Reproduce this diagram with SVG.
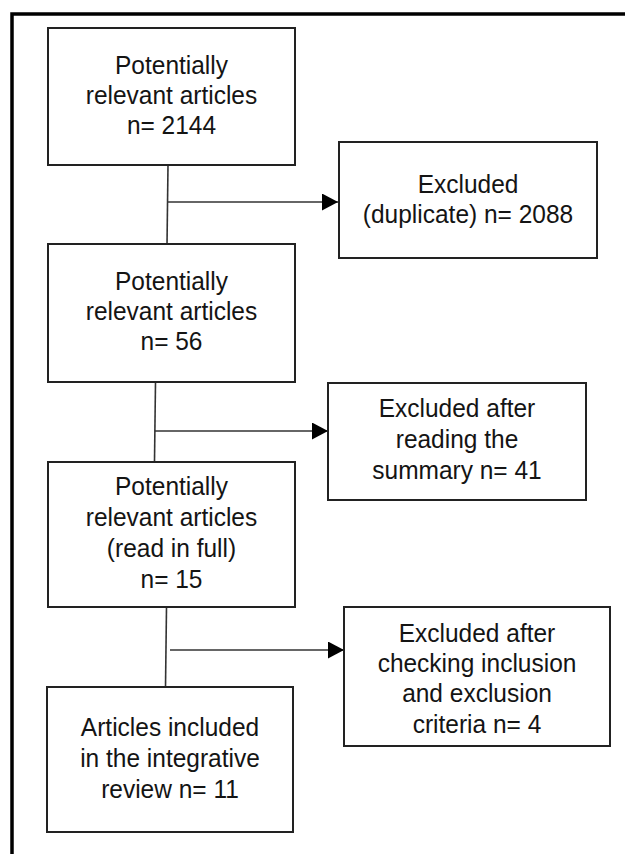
<svg xmlns="http://www.w3.org/2000/svg" width="625" height="854" viewBox="0 0 625 854">
<defs>
<style>
.box{fill:#fff;stroke:#222;stroke-width:2}
.t{font-family:"Liberation Sans",Arial,sans-serif;font-size:24.5px;fill:#141414;text-anchor:middle}
.c{stroke:#333;stroke-width:1.6;fill:none}
</style>
<marker id="arr" markerUnits="userSpaceOnUse" markerWidth="17" markerHeight="18" refX="16" refY="8.5" orient="auto">
<path d="M0,0 L16,8.5 L0,17 Z" fill="#000"/>
</marker>
</defs>
<rect width="625" height="854" fill="#fff"/>
<path d="M12,854 V14 H625" fill="none" stroke="#000" stroke-width="3.5"/>

<g id="connectors">
<path class="c" d="M168,165 L167,245"/>
<path class="c" d="M168,202 H338" marker-end="url(#arr)"/>
<path class="c" d="M155.5,382 L154.5,461"/>
<path class="c" d="M155,431 H328" marker-end="url(#arr)"/>
<path class="c" d="M166.5,607 L165.5,687"/>
<path class="c" d="M170,650 H344" marker-end="url(#arr)"/>
</g>

<g id="n1">
<rect class="box" x="48" y="28" width="247" height="137"/>
<text class="t" transform="translate(171.5,74) scale(1,1.08)">Potentially</text>
<text class="t" transform="translate(171.5,104) scale(1,1.08)">relevant articles</text>
<text class="t" transform="translate(171.5,134) scale(1,1.08)">n= 2144</text>
</g>

<g id="x1">
<rect class="box" x="339" y="142" width="258" height="116"/>
<text class="t" transform="translate(468,193) scale(1,1.08)">Excluded</text>
<text class="t" transform="translate(468,223) scale(1,1.08)">(duplicate) n= 2088</text>
</g>

<g id="n2">
<rect class="box" x="48" y="244" width="247" height="138"/>
<text class="t" transform="translate(171.5,290) scale(1,1.08)">Potentially</text>
<text class="t" transform="translate(171.5,320) scale(1,1.08)">relevant articles</text>
<text class="t" transform="translate(171.5,350) scale(1,1.08)">n= 56</text>
</g>

<g id="x2">
<rect class="box" x="328" y="383" width="258" height="117"/>
<text class="t" transform="translate(457,417) scale(1,1.08)">Excluded after</text>
<text class="t" transform="translate(457,448) scale(1,1.08)">reading the</text>
<text class="t" transform="translate(457,479) scale(1,1.08)">summary n= 41</text>
</g>

<g id="n3">
<rect class="box" x="48" y="462" width="247" height="145"/>
<text class="t" transform="translate(171.5,495) scale(1,1.08)">Potentially</text>
<text class="t" transform="translate(171.5,526) scale(1,1.08)">relevant articles</text>
<text class="t" transform="translate(171.5,557) scale(1,1.08)">(read in full)</text>
<text class="t" transform="translate(171.5,588) scale(1,1.08)">n= 15</text>
</g>

<g id="x3">
<rect class="box" x="344" y="607" width="266" height="139"/>
<text class="t" transform="translate(477,642) scale(1,1.08)">Excluded after</text>
<text class="t" transform="translate(477,672) scale(1,1.08)">checking inclusion</text>
<text class="t" transform="translate(477,702) scale(1,1.08)">and exclusion</text>
<text class="t" transform="translate(477,733) scale(1,1.08)">criteria n= 4</text>
</g>

<g id="n4">
<rect class="box" x="47" y="687" width="246" height="145"/>
<text class="t" transform="translate(170,736) scale(1,1.08)">Articles included</text>
<text class="t" transform="translate(170,767) scale(1,1.08)">in the integrative</text>
<text class="t" transform="translate(170,798) scale(1,1.08)">review n= 11</text>
</g>
</svg>
